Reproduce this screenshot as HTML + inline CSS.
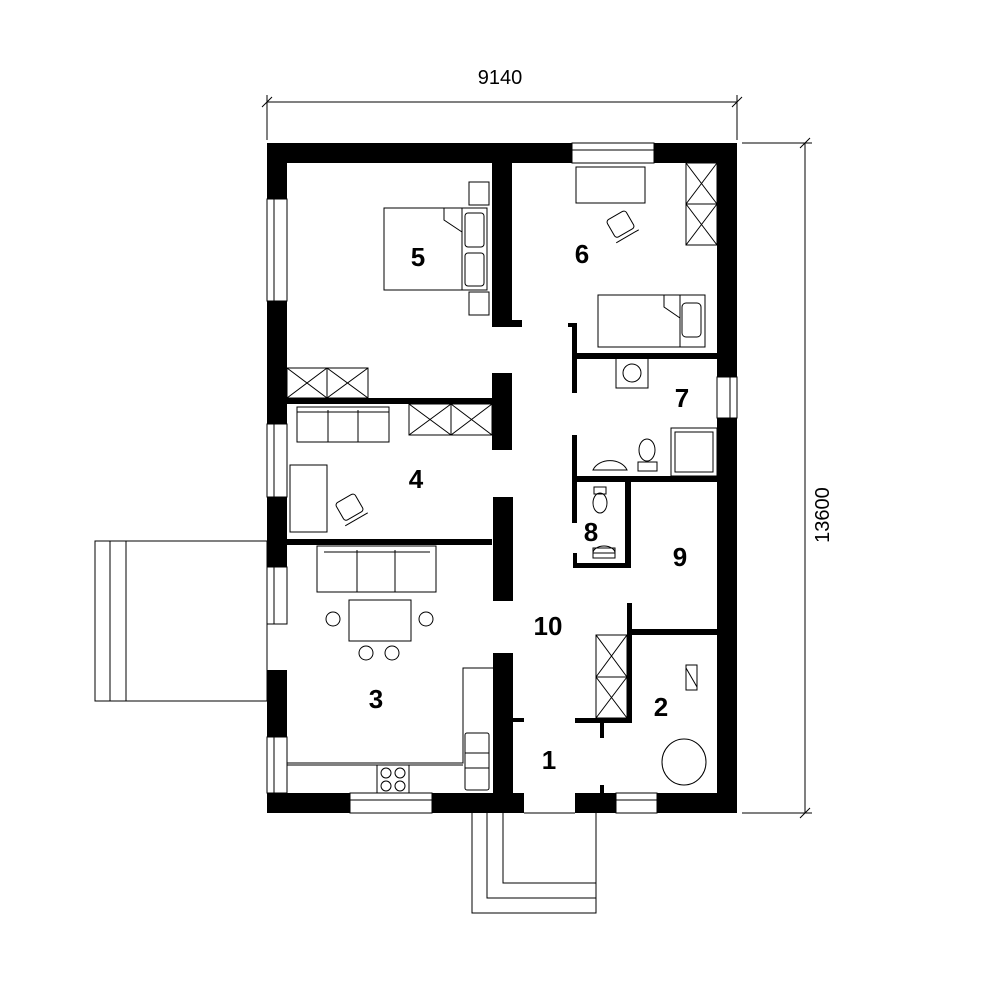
<!DOCTYPE html>
<html><head><meta charset="utf-8"><style>html,body{margin:0;padding:0;background:#fff}svg{display:block}</style></head>
<body>
<svg width="1000" height="1000" viewBox="0 0 1000 1000" xmlns="http://www.w3.org/2000/svg">
<rect width="1000" height="1000" fill="#fff"/>
<g stroke="#000" stroke-width="1" fill="none">
<!-- dimension lines -->
<line x1="267" y1="102" x2="737" y2="102"/>
<line x1="267" y1="95" x2="267" y2="140"/><line x1="737" y1="95" x2="737" y2="140"/>
<line x1="262" y1="107" x2="272" y2="97"/><line x1="732" y1="107" x2="742" y2="97"/>
<line x1="805" y1="143" x2="805" y2="813"/>
<line x1="742" y1="143" x2="812" y2="143"/><line x1="742" y1="813" x2="812" y2="813"/>
<line x1="800" y1="148" x2="810" y2="138"/><line x1="800" y1="818" x2="810" y2="808"/>
<!-- terrace -->
<rect x="95" y="541" width="172" height="160"/>
<line x1="110" y1="541" x2="110" y2="701"/><line x1="126" y1="541" x2="126" y2="701"/>
<!-- porch -->
<polyline points="472,813 472,913 596,913 596,813"/>
<polyline points="487,813 487,898 596,898"/>
<polyline points="503,813 503,883 596,883"/>
<!-- windows -->
<rect x="572" y="143" width="82" height="20"/><line x1="572" y1="150" x2="654" y2="150"/>
<rect x="267" y="199" width="20" height="102"/><line x1="274" y1="199" x2="274" y2="301"/>
<rect x="267" y="424" width="20" height="73"/><line x1="274" y1="424" x2="274" y2="497"/>
<rect x="267" y="567" width="20" height="57"/><line x1="274" y1="567" x2="274" y2="624"/>
<line x1="267" y1="624" x2="267" y2="670"/>
<rect x="267" y="737" width="20" height="56"/><line x1="274" y1="737" x2="274" y2="793"/>
<rect x="350" y="793" width="82" height="20"/><line x1="350" y1="800" x2="432" y2="800"/>
<rect x="616" y="793" width="41" height="20"/><line x1="616" y1="800" x2="657" y2="800"/>
<rect x="717" y="377" width="20" height="41"/><line x1="730" y1="377" x2="730" y2="418"/>
<line x1="524" y1="813" x2="575" y2="813"/>
</g>
<g fill="#000">
<!-- outer walls -->
<rect x="267" y="143" width="305" height="20"/><rect x="654" y="143" width="83" height="20"/>
<rect x="267" y="143" width="20" height="56"/><rect x="267" y="301" width="20" height="123"/>
<rect x="267" y="497" width="20" height="70"/><rect x="267" y="670" width="20" height="67"/>
<rect x="717" y="143" width="20" height="234"/><rect x="717" y="418" width="20" height="395"/>
<rect x="267" y="793" width="83" height="20"/><rect x="432" y="793" width="92" height="20"/>
<rect x="575" y="793" width="41" height="20"/><rect x="657" y="793" width="80" height="20"/>
<!-- interior -->
<rect x="492" y="163" width="20" height="164"/><rect x="492" y="320" width="30" height="7"/>
<rect x="287" y="398" width="205" height="6"/><rect x="492" y="373" width="20" height="77"/>
<rect x="287" y="539" width="205" height="6"/><rect x="493" y="497" width="20" height="104"/>
<rect x="493" y="653" width="20" height="160"/><rect x="513" y="718" width="11" height="4"/>
<rect x="572" y="323" width="5" height="70"/><rect x="568" y="323" width="9" height="4"/>
<rect x="577" y="353" width="140" height="6"/>
<rect x="572" y="435" width="5" height="88"/>
<rect x="577" y="476" width="140" height="6"/>
<rect x="625" y="482" width="6" height="86"/>
<rect x="573" y="563" width="58" height="5"/><rect x="573" y="553" width="4" height="15"/>
<rect x="627" y="603" width="5" height="120"/>
<rect x="632" y="629" width="85" height="6"/>
<rect x="575" y="718" width="57" height="5"/><rect x="600" y="723" width="4" height="15"/>
<rect x="600" y="785" width="4" height="8"/>
</g>
<g stroke="#000" stroke-width="1" fill="none">
<!-- room 5 -->
<rect x="384" y="208" width="103" height="82"/><line x1="462" y1="208" x2="462" y2="290"/>
<rect x="465" y="213" width="19" height="34" rx="3"/><rect x="465" y="253" width="19" height="33" rx="3"/>
<polyline points="444,208 444,220 462,232"/>
<rect x="469" y="182" width="20" height="23"/><rect x="469" y="292" width="20" height="23"/>
<rect x="287" y="368" width="40" height="30"/><rect x="327" y="368" width="41" height="30"/>
<path d="M287,368L327,398M327,368L287,398M327,368L368,398M368,368L327,398"/>
<!-- room 6 -->
<rect x="576" y="167" width="69" height="36"/>
<rect x="686" y="163" width="31" height="41"/><rect x="686" y="204" width="31" height="41"/>
<path d="M686,163L717,204M717,163L686,204M686,204L717,245M717,204L686,245"/>
<rect x="598" y="295" width="107" height="52"/><line x1="680" y1="295" x2="680" y2="347"/>
<rect x="682" y="303" width="19" height="34" rx="4"/><polyline points="664,295 664,307 680,318"/>
<g transform="rotate(-30 621 225)"><rect x="610" y="214" width="22" height="20" rx="3"/><line x1="608" y1="238" x2="634" y2="238"/></g>
<!-- room 4 -->
<rect x="297" y="407" width="92" height="35"/><line x1="328" y1="410" x2="328" y2="442"/><line x1="358" y1="410" x2="358" y2="442"/><line x1="297" y1="412" x2="389" y2="412"/>
<rect x="409" y="404" width="42" height="31"/><rect x="451" y="404" width="41" height="31"/>
<path d="M409,404L451,435M451,404L409,435M451,404L492,435M492,404L451,435"/>
<rect x="290" y="465" width="37" height="67"/>
<g transform="rotate(-30 350 508)"><rect x="339" y="497" width="22" height="20" rx="3"/><line x1="337" y1="521" x2="363" y2="521"/></g>
<!-- room 7 -->
<rect x="616" y="358" width="32" height="30"/><circle cx="632" cy="373" r="9"/>
<rect x="671" y="428" width="46" height="48"/><rect x="675" y="432" width="38" height="40"/>
<path d="M593,470 A18,14 0 0 1 627,470 Z"/><ellipse cx="647" cy="450" rx="8" ry="11"/><rect x="638" y="462" width="19" height="9"/>
<!-- room 8 -->
<ellipse cx="600" cy="503" rx="7" ry="10"/><rect x="594" y="487" width="12" height="7"/>
<path d="M593,553 A11,7 0 0 1 615,553 Z"/><rect x="593" y="548" width="22" height="10"/>
<!-- room 3 -->
<rect x="317" y="546" width="119" height="46"/><line x1="357" y1="550" x2="357" y2="592"/><line x1="395" y1="550" x2="395" y2="592"/><line x1="324" y1="552" x2="430" y2="552"/>
<rect x="349" y="600" width="62" height="41"/>
<circle cx="333" cy="619" r="7"/><circle cx="426" cy="619" r="7"/><circle cx="366" cy="653" r="7"/><circle cx="392" cy="653" r="7"/>
<polyline points="287,763 463,763 463,668 493,668"/><line x1="287" y1="765" x2="463" y2="765"/>
<rect x="377" y="765" width="32" height="28"/>
<circle cx="386" cy="773" r="5"/><circle cx="400" cy="773" r="5"/><circle cx="386" cy="786" r="5"/><circle cx="400" cy="786" r="5"/>
<rect x="465" y="733" width="24" height="57" rx="2"/><line x1="465" y1="753" x2="489" y2="753"/><line x1="465" y1="768" x2="489" y2="768"/>
<!-- hall wardrobe -->
<rect x="596" y="635" width="31" height="42"/><rect x="596" y="677" width="31" height="41"/>
<path d="M596,635L627,677M627,635L596,677M596,677L627,718M627,677L596,718"/>
<!-- room 2 -->
<rect x="686" y="665" width="11" height="25"/><line x1="686" y1="668" x2="697" y2="687"/>
<ellipse cx="684" cy="762" rx="22" ry="23"/>
</g>
<g font-family="Liberation Sans, sans-serif" font-weight="bold" font-size="26" text-anchor="middle" fill="#000">
<text x="418" y="266">5</text><text x="582" y="263">6</text><text x="682" y="407">7</text>
<text x="416" y="488">4</text><text x="591" y="541">8</text><text x="680" y="566">9</text>
<text x="548" y="635">10</text><text x="376" y="708">3</text><text x="661" y="716">2</text><text x="549" y="769">1</text>
</g>
<g font-family="Liberation Sans, sans-serif" font-size="20" text-anchor="middle" fill="#000">
<text x="500" y="84">9140</text>
<text x="0" y="0" transform="translate(829,515) rotate(-90)">13600</text>
</g>
</svg>
</body></html>
